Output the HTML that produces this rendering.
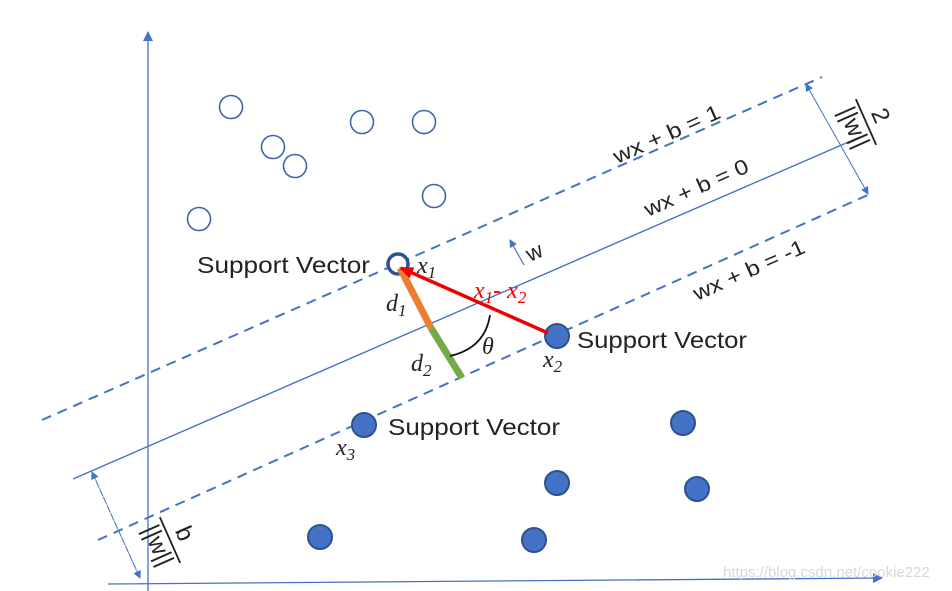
<!DOCTYPE html>
<html><head><meta charset="utf-8"><style>html,body{margin:0;padding:0;background:#fff}svg{display:block}</style></head>
<body>
<svg width="952" height="591" viewBox="0 0 952 591" xmlns="http://www.w3.org/2000/svg" font-family="Liberation Sans, sans-serif">
<defs>
<marker id="a" markerWidth="8" markerHeight="8" refX="7" refY="4" orient="auto" markerUnits="userSpaceOnUse"><path d="M0,0 L8,4 L0,8 z" fill="#4472c4"/></marker>
<marker id="as" markerWidth="10" markerHeight="10" refX="9" refY="5" orient="auto" markerUnits="userSpaceOnUse"><path d="M0,0 L10,5 L0,10 z" fill="#4472c4"/></marker>
<marker id="r" markerWidth="14" markerHeight="12" refX="12" refY="6" orient="auto" markerUnits="userSpaceOnUse"><path d="M0,0 L14,6 L0,12 z" fill="#e00"/></marker>
</defs>
<line x1="148" y1="592" x2="148" y2="32" stroke="#4472c4" stroke-width="1.3" marker-end="url(#as)"/>
<line x1="108" y1="584" x2="882" y2="578" stroke="#4472c4" stroke-width="1.3" marker-end="url(#as)"/>
<line x1="42" y1="420" x2="822" y2="77" stroke="#4472c4" stroke-width="2" stroke-dasharray="10,7"/>
<line x1="73" y1="479" x2="860" y2="137" stroke="#4472c4" stroke-width="1.4"/>
<line x1="98" y1="540" x2="870" y2="194" stroke="#4472c4" stroke-width="2" stroke-dasharray="10,7"/>
<line x1="868" y1="194" x2="806" y2="84" stroke="#4472c4" stroke-width="1" stroke-dasharray="5,4" marker-end="url(#a)"/>
<line x1="806" y1="84" x2="868" y2="194" stroke="#4472c4" stroke-width="1" stroke-dasharray="5,4" marker-end="url(#a)"/>
<line x1="140" y1="578" x2="92" y2="472" stroke="#4472c4" stroke-width="1" stroke-dasharray="5,4" marker-end="url(#a)"/>
<line x1="92" y1="472" x2="140" y2="578" stroke="#4472c4" stroke-width="1" stroke-dasharray="5,4" marker-end="url(#a)"/>
<line x1="524" y1="265" x2="510" y2="240" stroke="#4472c4" stroke-width="1.2" marker-end="url(#a)"/>
<text font-size="22" fill="#222" transform="translate(530,262) rotate(-24)">w</text>
<g fill="#fff" stroke="#3f64ab" stroke-width="1.6">
<circle cx="231" cy="107" r="11.5"/><circle cx="273" cy="147" r="11.5"/><circle cx="295" cy="166" r="11.5"/>
<circle cx="362" cy="122" r="11.5"/><circle cx="424" cy="122" r="11.5"/><circle cx="434" cy="196" r="11.5"/>
<circle cx="199" cy="219" r="11.5"/>
</g>
<circle cx="398" cy="264" r="10" fill="#fff" stroke="#2f528f" stroke-width="3.5"/>
<g fill="#4472c4" stroke="#2f528f" stroke-width="2">
<circle cx="557" cy="336" r="12"/><circle cx="364" cy="425" r="12"/><circle cx="683" cy="423" r="12"/>
<circle cx="557" cy="483" r="12"/><circle cx="697" cy="489" r="12"/><circle cx="320" cy="537" r="12"/>
<circle cx="534" cy="540" r="12"/>
</g>
<line x1="400" y1="268" x2="431" y2="328" stroke="#ed7d31" stroke-width="7"/>
<line x1="431" y1="328" x2="462" y2="378" stroke="#70ad47" stroke-width="7"/>
<line x1="548" y1="333" x2="401" y2="268" stroke="#e00" stroke-width="3.5" marker-end="url(#r)"/>
<path d="M450,356 Q485,348 490,315" fill="none" stroke="#111" stroke-width="1.8"/>
<g font-family="Liberation Serif, serif" font-style="italic" fill="#222" font-size="24">
<text x="417" y="273">x<tspan font-size="17" dy="5">1</tspan></text>
<text x="386" y="311">d<tspan font-size="17" dy="5">1</tspan></text>
<text x="411" y="371">d<tspan font-size="17" dy="5">2</tspan></text>
<text x="482" y="354">θ</text>
<text x="543" y="367">x<tspan font-size="17" dy="5">2</tspan></text>
<text x="336" y="455">x<tspan font-size="17" dy="5">3</tspan></text>
<text x="474" y="298" fill="#e00">x<tspan font-size="17" dy="5">1</tspan><tspan dy="-5" font-style="normal">- </tspan>x<tspan font-size="17" dy="5">2</tspan></text>
</g>
<g font-size="23" fill="#222">
<text x="197" y="273" textLength="173" lengthAdjust="spacingAndGlyphs">Support Vector</text>
<text x="577" y="348" textLength="170" lengthAdjust="spacingAndGlyphs">Support Vector</text>
<text x="388" y="435" textLength="172" lengthAdjust="spacingAndGlyphs">Support Vector</text>
</g>
<g font-size="21" fill="#222">
<text transform="translate(617,164) rotate(-24)" textLength="115" lengthAdjust="spacingAndGlyphs">wx + b = 1</text>
<text transform="translate(648,217) rotate(-24)" textLength="112" lengthAdjust="spacingAndGlyphs">wx + b = 0</text>
<text transform="translate(697,301) rotate(-24)" textLength="120" lengthAdjust="spacingAndGlyphs">wx + b = -1</text>
</g>
<g transform="translate(866,122) rotate(66)" fill="#222">
<line x1="-25" y1="0" x2="25" y2="0" stroke="#222" stroke-width="1.8"/>
<text x="0" y="-8" font-size="24" text-anchor="middle">2</text>
<text x="0" y="21" font-size="24" text-anchor="middle">||w||</text>
</g>
<g transform="translate(170,540) rotate(66)" fill="#222">
<line x1="-25" y1="0" x2="25" y2="0" stroke="#222" stroke-width="1.8"/>
<text x="0" y="-8" font-size="24" text-anchor="middle">b</text>
<text x="0" y="21" font-size="24" text-anchor="middle">||w||</text>
</g>
<text x="723" y="577" font-size="15" fill="#d8d8d8">https://blog.csdn.net/cookie222</text>
</svg>
</body></html>
